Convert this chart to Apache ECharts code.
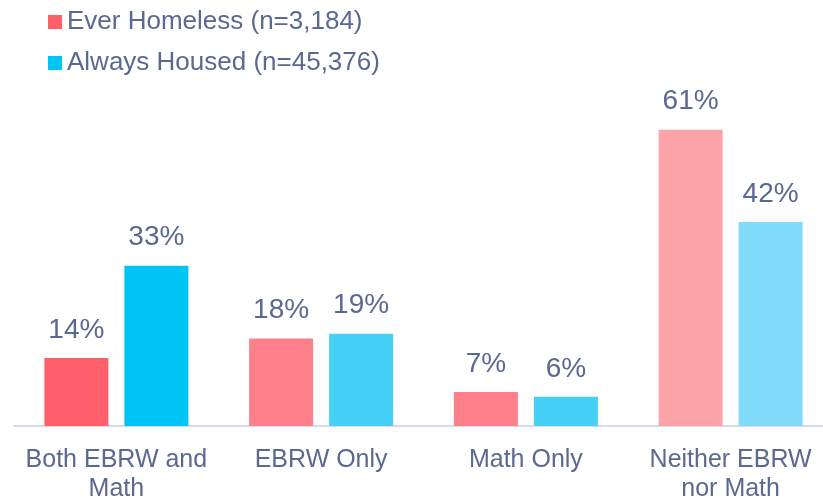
<!DOCTYPE html>
<html>
<head>
<meta charset="utf-8">
<script src="https://cdn.jsdelivr.net/npm/echarts@6/dist/echarts.min.js"></script>
<style>html,body{margin:0;padding:0;background:#fff}#c{width:823px;height:499px}</style>
</head>
<body>
<div id="c"></div>
<script>
const categories = ['Both EBRW and\nMath', 'EBRW Only', 'Math Only', 'Neither EBRW\nnor Math'];
const seriesNames = ['Ever Homeless (n=3,184)', 'Always Housed (n=45,376)'];
const everHomeless = [14, 18, 7, 61];
const alwaysHoused = [33, 19, 6, 42];
const redShades = ['#FF5F6B', '#FF808B', '#FF808B', '#FCA2A9'];
const cyanShades = ['#00C4F3', '#45D0F7', '#45D0F7', '#80DBFA'];

const textColor = '#5A6990';
const font = '"Liberation Sans", Arial, sans-serif';

function mk(vals, shades) {
  return vals.map((v, i) => ({ value: v, itemStyle: { color: shades[i] } }));
}

const chart = echarts.init(document.getElementById('c'));
chart.setOption({
  animation: false,
  textStyle: { fontFamily: font },
  legend: {
    orient: 'vertical',
    left: 43,
    top: 4,
    itemWidth: 14,
    itemHeight: 14,
    itemGap: 15,
    icon: 'rect',
    textStyle: { fontSize: 26, color: textColor, fontFamily: font },
    data: seriesNames
  },
  grid: { left: 14, right: -10, top: 86, bottom: 73, containLabel: false, outerBoundsMode: 'none' },
  xAxis: {
    type: 'category',
    data: categories,
    axisLine: { lineStyle: { color: '#D9DCE6', width: 2 } },
    axisTick: { show: false },
    axisLabel: { fontSize: 25, color: textColor, lineHeight: 29, margin: 20, fontFamily: font, interval: 0 }
  },
  yAxis: {
    type: 'value', min: 0, max: 70,
    show: false, splitLine: { show: false }
  },
  series: [
    {
      name: seriesNames[0], type: 'bar', barWidth: 64, barGap: '25%',
      itemStyle: { color: redShades[0] },
      data: mk(everHomeless, redShades),
      label: { show: true, position: 'top', distance: 14, fontSize: 28, color: textColor, fontFamily: font, formatter: '{c}%' }
    },
    {
      name: seriesNames[1], type: 'bar', barWidth: 64,
      itemStyle: { color: cyanShades[0] },
      data: mk(alwaysHoused, cyanShades),
      label: { show: true, position: 'top', distance: 14, fontSize: 28, color: textColor, fontFamily: font, formatter: '{c}%' }
    }
  ]
});
</script>
</body>
</html>
